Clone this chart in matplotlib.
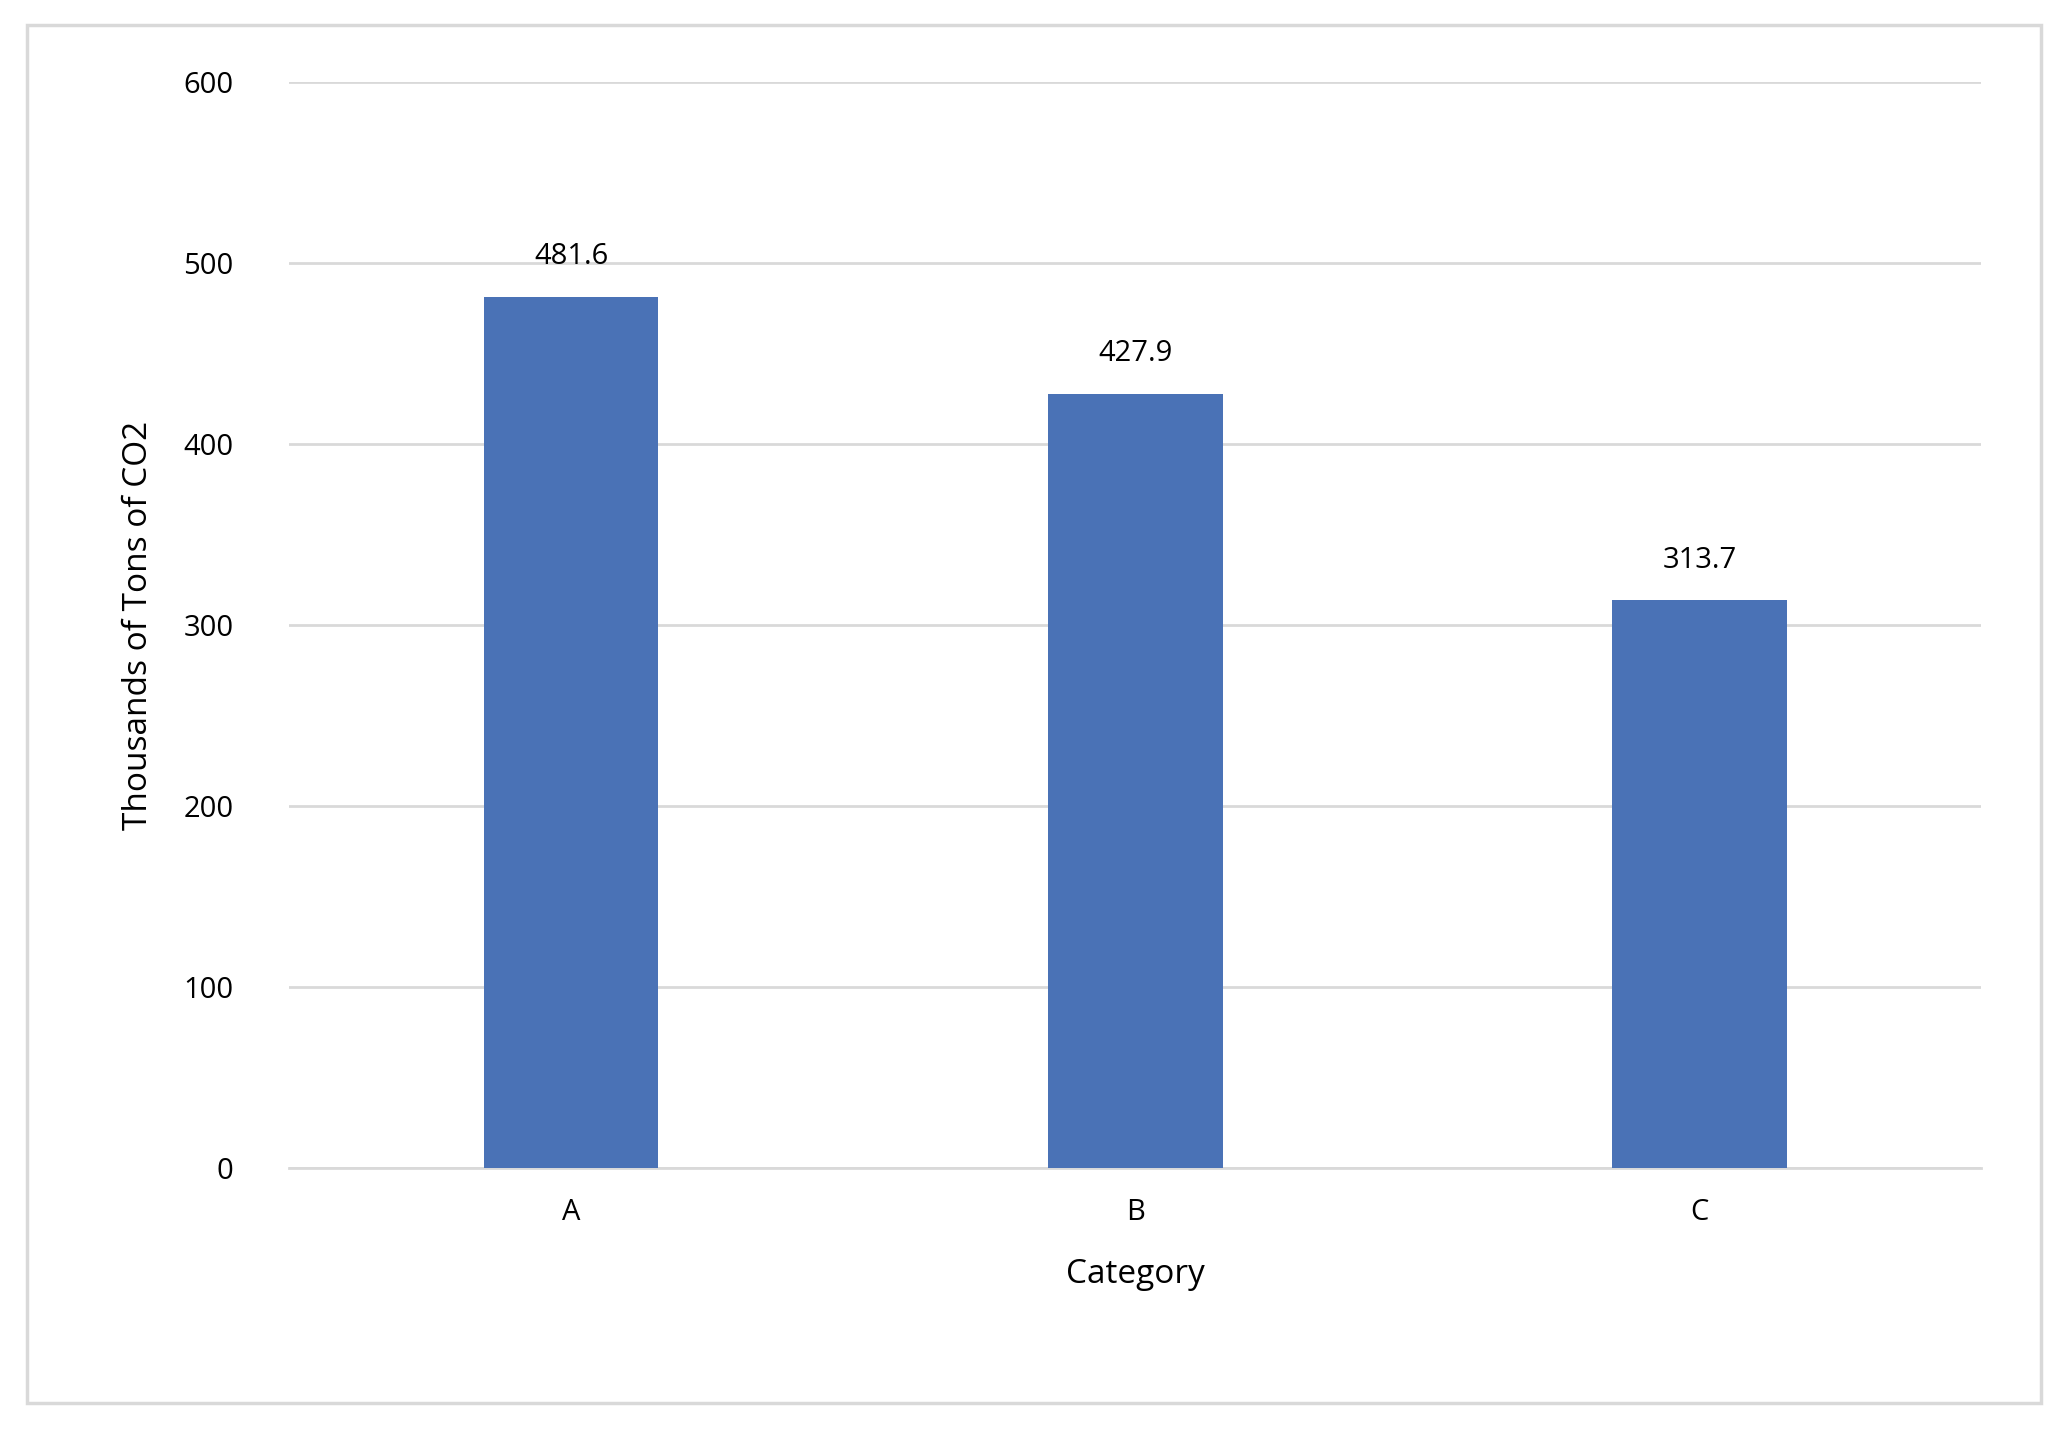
import matplotlib.pyplot as plt
from matplotlib.patches import Rectangle

categories = ["A", "B", "C"]
values = [481.6, 427.9, 313.7]
y_ticks = [0, 100, 200, 300, 400, 500, 600]

plt.rcParams["font.family"] = ["Open Sans", "DejaVu Sans"]

fig = plt.figure(figsize=(20.64, 14.45), dpi=100)
fig.patches.append(Rectangle((0.013, 0.029), 0.976, 0.954, transform=fig.transFigure,
                             fill=False, edgecolor="#d9d9d9", linewidth=2.5))
ax = fig.add_axes([0.140, 0.192, 0.820, 0.751])

x = range(len(categories))
bars = ax.bar(x, values, width=0.31, color="#4a72b6", zorder=3)
for b, v in zip(bars, values):
    ax.text(b.get_x() + b.get_width() / 2, v + 14, f"{v:.1f}",
            ha="center", va="bottom", fontsize=21)

ax.set_ylim(0, 600)
ax.set_xlim(-0.5, 2.5)
ax.set_yticks(y_ticks)
ax.set_xticks(list(x))
ax.set_xticklabels(categories)
ax.yaxis.grid(True, color="#d9d9d9", linewidth=2, zorder=0)
for s in ["top", "right", "left"]:
    ax.spines[s].set_visible(False)
ax.spines["bottom"].set_color("#d9d9d9")
ax.spines["bottom"].set_linewidth(2)
ax.tick_params(axis="both", length=0, labelsize=21, pad=22)
ax.tick_params(axis="y", pad=40)
ax.set_xlabel("Category", fontsize=24, labelpad=22)
ax.set_ylabel("Thousands of Tons of CO2", fontsize=24, labelpad=20)

fig.savefig("out.png", dpi=100)
